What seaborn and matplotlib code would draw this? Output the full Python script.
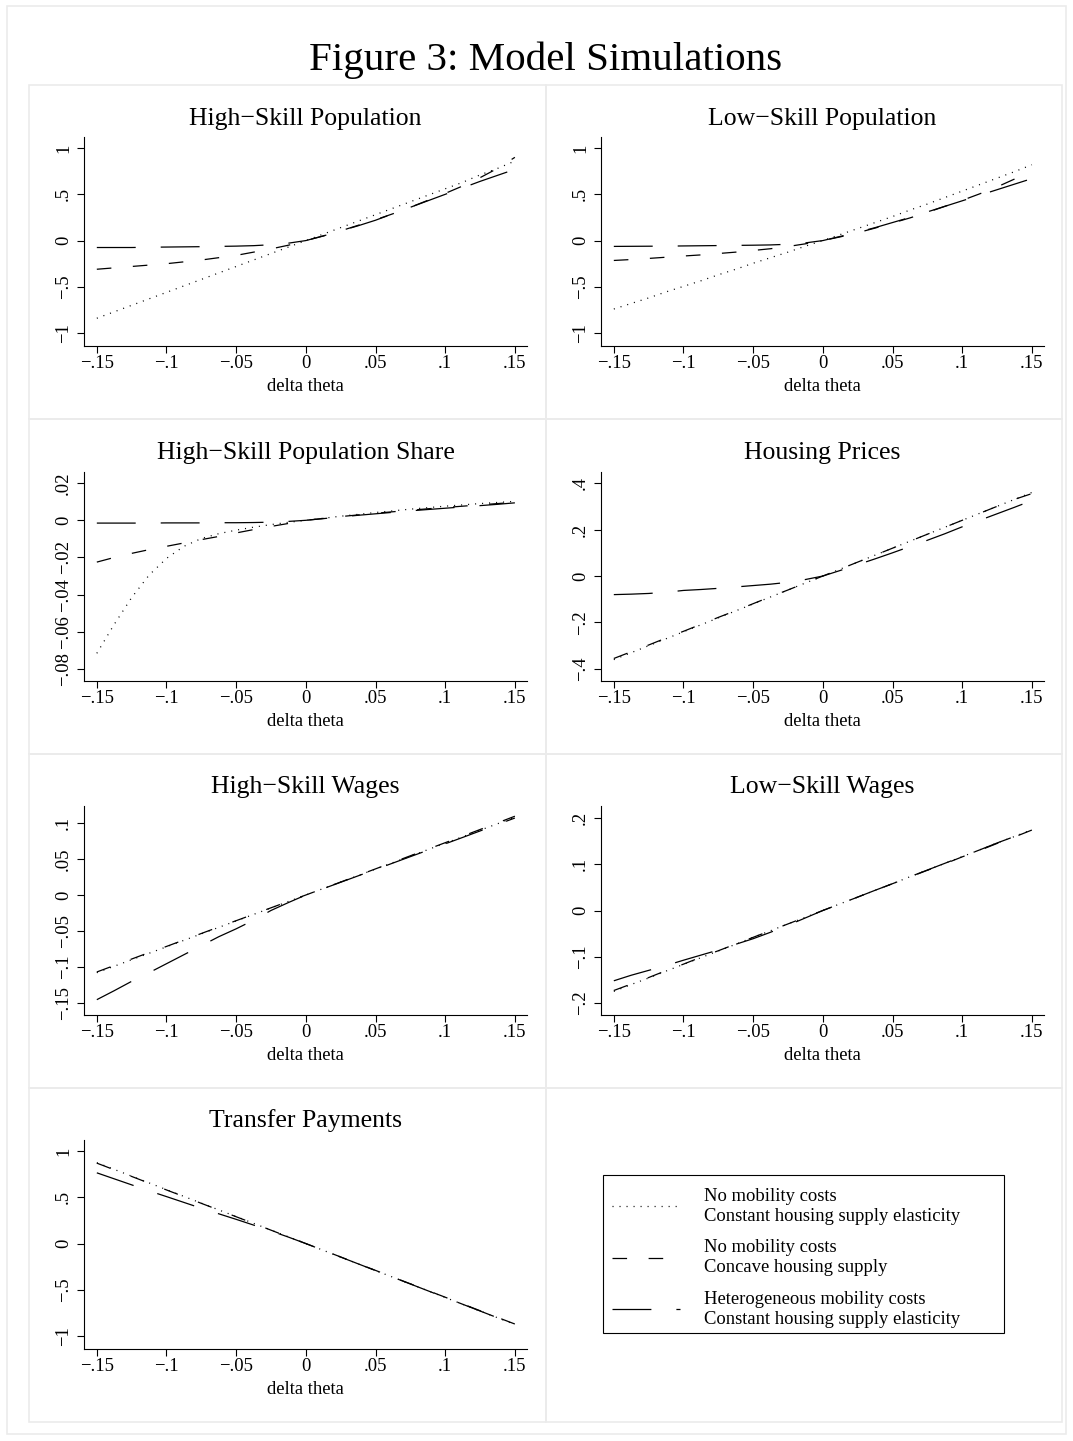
import pandas as pd
import seaborn as sns
import matplotlib.pyplot as plt
from matplotlib.patches import Rectangle
from matplotlib.ticker import FixedLocator, FuncFormatter

# grid of delta theta values the model was simulated on
delta_theta = [-0.15, -0.1375, -0.125, -0.1125, -0.1, -0.0875, -0.075, -0.0625, -0.05,
               -0.0375, -0.025, -0.0125, 0.0, 0.0125, 0.025, 0.0375, 0.05, 0.0625,
               0.075, 0.0875, 0.1, 0.1125, 0.125, 0.1375, 0.15]

series_names = ["No mobility costs\nConstant housing supply elasticity",
                "No mobility costs\nConcave housing supply",
                "Heterogeneous mobility costs\nConstant housing supply elasticity"]

# High-skill population
hs_pop_const = [-0.84, -0.77, -0.70, -0.63, -0.56, -0.49, -0.42, -0.35, -0.28, -0.21, -0.14, -0.07, 0.0,
                0.07, 0.14, 0.21, 0.28, 0.35, 0.42, 0.49, 0.56, 0.63, 0.71, 0.78, 0.86]
hs_pop_concave = [-0.31, -0.295, -0.28, -0.265, -0.25, -0.23, -0.21, -0.185, -0.16, -0.125, -0.09, -0.05, 0.0,
                  0.05, 0.105, 0.165, 0.225, 0.29, 0.36, 0.435, 0.51, 0.59, 0.68, 0.78, 0.90]
hs_pop_hetero = [-0.075, -0.075, -0.075, -0.072, -0.07, -0.068, -0.066, -0.063, -0.06, -0.055, -0.045, -0.028, 0.0,
                 0.05, 0.105, 0.16, 0.22, 0.29, 0.36, 0.43, 0.50, 0.57, 0.64, 0.705, 0.77]

# Low-skill population
ls_pop_const = [-0.74, -0.68, -0.62, -0.555, -0.495, -0.435, -0.37, -0.31, -0.245, -0.185, -0.125, -0.06, 0.0,
                0.065, 0.13, 0.195, 0.26, 0.33, 0.395, 0.465, 0.535, 0.605, 0.675, 0.745, 0.82]
ls_pop_concave = [-0.215, -0.205, -0.193, -0.18, -0.167, -0.155, -0.14, -0.125, -0.107, -0.088, -0.064, -0.035, 0.0,
                  0.04, 0.085, 0.135, 0.19, 0.245, 0.305, 0.37, 0.435, 0.505, 0.58, 0.665, 0.76]
ls_pop_hetero = [-0.063, -0.062, -0.061, -0.06, -0.058, -0.056, -0.054, -0.052, -0.05, -0.047, -0.04, -0.025, 0.0,
                 0.045, 0.09, 0.14, 0.195, 0.25, 0.31, 0.37, 0.43, 0.49, 0.55, 0.61, 0.67]

# High-skill population share
share_const = [-0.0716, -0.056, -0.0416, -0.0295, -0.0205, -0.014, -0.0098, -0.0072, -0.0053, -0.0037, -0.0023, -0.0011, 0.0,
               0.0011, 0.0022, 0.0032, 0.0042, 0.0051, 0.006, 0.0068, 0.0076, 0.0083, 0.009, 0.0096, 0.0102]
share_concave = [-0.0225, -0.020, -0.0178, -0.0158, -0.014, -0.0122, -0.0104, -0.0087, -0.0068, -0.005, -0.0033, -0.0017, 0.0,
                 0.001, 0.002, 0.0029, 0.0038, 0.0046, 0.0054, 0.0062, 0.0069, 0.0076, 0.0083, 0.009, 0.0097]
share_hetero = [-0.0015, -0.0015, -0.0015, -0.0015, -0.0014, -0.0014, -0.0014, -0.0013, -0.0013, -0.0012, -0.001, -0.0006, 0.0,
                0.0009, 0.0018, 0.0027, 0.0035, 0.0043, 0.0051, 0.0058, 0.0065, 0.0072, 0.0079, 0.0086, 0.0094]

# Housing prices
house_const = [-0.36, -0.33, -0.30, -0.27, -0.24, -0.21, -0.18, -0.15, -0.12, -0.09, -0.06, -0.03, 0.0,
               0.03, 0.06, 0.09, 0.12, 0.15, 0.18, 0.21, 0.24, 0.27, 0.30, 0.33, 0.36]
house_concave = [-0.355, -0.326, -0.297, -0.267, -0.238, -0.208, -0.178, -0.149, -0.119, -0.089, -0.06, -0.03, 0.0,
                 0.03, 0.06, 0.09, 0.12, 0.15, 0.18, 0.21, 0.24, 0.27, 0.30, 0.33, 0.355]
house_hetero = [-0.08, -0.078, -0.075, -0.07, -0.062, -0.058, -0.053, -0.047, -0.041, -0.035, -0.027, -0.015, 0.0,
                0.024, 0.049, 0.074, 0.10, 0.127, 0.154, 0.182, 0.212, 0.24, 0.268, 0.296, 0.325]

# High-skill wages
hs_wage_const = [-0.108, -0.099, -0.09, -0.081, -0.072, -0.063, -0.054, -0.045, -0.036, -0.027, -0.018, -0.009, 0.0,
                 0.009, 0.018, 0.027, 0.036, 0.045, 0.054, 0.063, 0.072, 0.081, 0.09, 0.099, 0.108]
hs_wage_concave = [-0.107, -0.098, -0.089, -0.08, -0.0715, -0.0625, -0.0535, -0.0445, -0.0357, -0.0268, -0.0178, -0.0089, 0.0,
                   0.009, 0.018, 0.0272, 0.0363, 0.0454, 0.0545, 0.0636, 0.0727, 0.0818, 0.091, 0.1002, 0.1095]
hs_wage_hetero = [-0.1455, -0.133, -0.12, -0.108, -0.0955, -0.083, -0.0705, -0.058, -0.047, -0.035, -0.0215, -0.0105, 0.0,
                  0.0088, 0.0177, 0.0266, 0.0355, 0.0444, 0.0533, 0.0622, 0.0711, 0.080, 0.089, 0.098, 0.107]

# Low-skill wages
ls_wage_const = [-0.175, -0.16, -0.146, -0.131, -0.1165, -0.102, -0.0875, -0.073, -0.058, -0.0437, -0.029, -0.0146, 0.0,
                 0.0146, 0.029, 0.0437, 0.058, 0.073, 0.0875, 0.102, 0.1165, 0.131, 0.146, 0.16, 0.175]
ls_wage_concave = [-0.173, -0.159, -0.145, -0.13, -0.116, -0.101, -0.087, -0.0725, -0.058, -0.0435, -0.029, -0.0145, 0.0,
                   0.0145, 0.029, 0.0435, 0.058, 0.0725, 0.087, 0.101, 0.116, 0.13, 0.145, 0.159, 0.174]
ls_wage_hetero = [-0.152, -0.14, -0.1295, -0.119, -0.1075, -0.0965, -0.0855, -0.073, -0.061, -0.047, -0.032, -0.016, 0.0,
                  0.0146, 0.029, 0.0437, 0.058, 0.073, 0.0875, 0.102, 0.1165, 0.131, 0.146, 0.16, 0.175]

# Transfer payments
transfer_const = [0.875, 0.802, 0.729, 0.656, 0.583, 0.51, 0.437, 0.364, 0.292, 0.219, 0.146, 0.073, 0.0,
                  -0.073, -0.146, -0.219, -0.292, -0.364, -0.437, -0.51, -0.583, -0.656, -0.729, -0.802, -0.875]
transfer_concave = [0.87, 0.798, 0.726, 0.653, 0.58, 0.508, 0.435, 0.363, 0.29, 0.218, 0.145, 0.072, 0.0,
                    -0.072, -0.145, -0.218, -0.29, -0.363, -0.435, -0.508, -0.58, -0.653, -0.726, -0.798, -0.87]
transfer_hetero = [0.765, 0.70, 0.635, 0.57, 0.508, 0.445, 0.382, 0.322, 0.262, 0.2, 0.136, 0.07, 0.0,
                   -0.073, -0.146, -0.219, -0.292, -0.364, -0.437, -0.51, -0.583, -0.656, -0.729, -0.802, -0.875]

panel_titles = ["High−Skill Population", "Low−Skill Population", "High−Skill Population Share",
                "Housing Prices", "High−Skill Wages", "Low−Skill Wages", "Transfer Payments"]
panel_series = [
    (hs_pop_const, hs_pop_concave, hs_pop_hetero),
    (ls_pop_const, ls_pop_concave, ls_pop_hetero),
    (share_const, share_concave, share_hetero),
    (house_const, house_concave, house_hetero),
    (hs_wage_const, hs_wage_concave, hs_wage_hetero),
    (ls_wage_const, ls_wage_concave, ls_wage_hetero),
    (transfer_const, transfer_concave, transfer_hetero),
]
x_ticks = [-0.15, -0.1, -0.05, 0, 0.05, 0.1, 0.15]
y_ticks = [[-1, -0.5, 0, 0.5, 1], [-1, -0.5, 0, 0.5, 1], [-0.08, -0.06, -0.04, -0.02, 0, 0.02],
           [-0.4, -0.2, 0, 0.2, 0.4], [-0.15, -0.1, -0.05, 0, 0.05, 0.1], [-0.2, -0.1, 0, 0.1, 0.2],
           [-1, -0.5, 0, 0.5, 1]]

# long-form table for seaborn
rows = []
for title, series in zip(panel_titles, panel_series):
    for name, values in zip(series_names, series):
        for x, v in zip(delta_theta, values):
            rows.append({"panel": title, "series": name, "delta theta": x, "value": v})
df = pd.DataFrame(rows)

sns.set_theme(style="white")
plt.rcParams["font.family"] = ["Liberation Serif", "DejaVu Serif"]
plt.rcParams["lines.scale_dashes"] = False
for key in ("text.color", "axes.labelcolor", "xtick.color", "ytick.color", "axes.edgecolor"):
    plt.rcParams[key] = "black"

W, H = 1073, 1441
fig = plt.figure(figsize=(W / 100, H / 100), dpi=100)


def fx(px):
    return px / W


def fy(py):
    return 1 - py / H


def frame(x0, y0, x1, y1, color, lw):
    fig.add_artist(Rectangle((fx(x0), fy(y1)), fx(x1) - fx(x0), fy(y0) - fy(y1),
                             transform=fig.transFigure, fill=False, edgecolor=color, lw=lw))


# light frames as in Stata's graph combine
frame(7, 6, 1066, 1434, "#ebebeb", 1.2)
col_edges = [29, 546, 1062]
row_edges = [85, 419, 754, 1088, 1422]
for r in range(4):
    for c in range(2):
        frame(col_edges[c], row_edges[r], col_edges[c + 1], row_edges[r + 1], "#ebebeb", 1.2)

palette = {n: "black" for n in series_names}
dash_map = {series_names[0]: (0.75, 4.3),
            series_names[1]: (10.5, 15.5),
            series_names[2]: (28, 18)}

ax_left = {0: 84, 1: 601}
ax_top = [137, 472, 806, 1140]
ylims = [(-1.14, 1.12), (-1.14, 1.12), (-0.0865, 0.026), (-0.452, 0.448),
         (-0.1668, 0.1237), (-0.226, 0.226), (-1.14, 1.12)]


def stata_fmt(v, pos=None):
    s = f"{v:g}"
    if s.startswith("0."):
        s = s[1:]
    s = s.replace("-0.", "-.")
    return s.replace("-", "−")


axes = []
for i, title in enumerate(panel_titles):
    r, c = divmod(i, 2)
    left = ax_left[c]
    top = ax_top[r]
    ax = fig.add_axes([fx(left), fy(top + 209), 443 / W, 209 / H])
    sub = df[df["panel"] == title]
    sns.lineplot(data=sub, x="delta theta", y="value", hue="series", style="series",
                 palette=palette, dashes=dash_map, hue_order=series_names,
                 style_order=series_names, estimator=None, legend=False,
                 linewidth=0.9, ax=ax)
    ax.set_xlim(-0.1592, 0.1587)
    ax.set_ylim(*ylims[i])
    ax.xaxis.set_major_locator(FixedLocator(x_ticks))
    ax.yaxis.set_major_locator(FixedLocator(y_ticks[i]))
    ax.xaxis.set_major_formatter(FuncFormatter(stata_fmt))
    ax.yaxis.set_major_formatter(FuncFormatter(stata_fmt))
    sns.despine(ax=ax)
    for sp in ("left", "bottom"):
        ax.spines[sp].set_linewidth(0.8)
        ax.spines[sp].set_color("black")
    ax.tick_params(axis="both", which="major", direction="out", length=5, width=0.8,
                   color="black", labelcolor="black", labelsize=13.4, left=True, bottom=True)
    ax.tick_params(axis="x", pad=1.5)
    ax.tick_params(axis="y", pad=3.5, labelrotation=90)
    plt.setp(ax.get_yticklabels(), va="center")
    ax.set_xlabel("delta theta", fontsize=13.4, labelpad=4, color="black")
    ax.set_ylabel("")
    ax.set_title(title, fontsize=18.5, pad=9, color="black")
    ax.set_facecolor("white")
    axes.append(ax)

# legend in the empty eighth cell, with a Stata-like box
frame(603, 1175, 1004, 1333, "black", 0.8)
handles = axes[0].get_lines()[:3]
leg = fig.legend(handles, series_names, loc="upper left",
                 bbox_to_anchor=(fx(612), fy(1188)), frameon=False, fontsize=13.4,
                 handlelength=3.66, handletextpad=1.3, borderpad=0, borderaxespad=0,
                 labelspacing=0.8)
for t in leg.get_texts():
    t.set_linespacing(1.2)
    t.set_color("black")

fig.text(fx(545.5), fy(70), "Figure 3: Model Simulations", ha="center", va="baseline",
         fontsize=29.5, color="black")

fig.savefig("out.png", dpi=100, facecolor="white")
